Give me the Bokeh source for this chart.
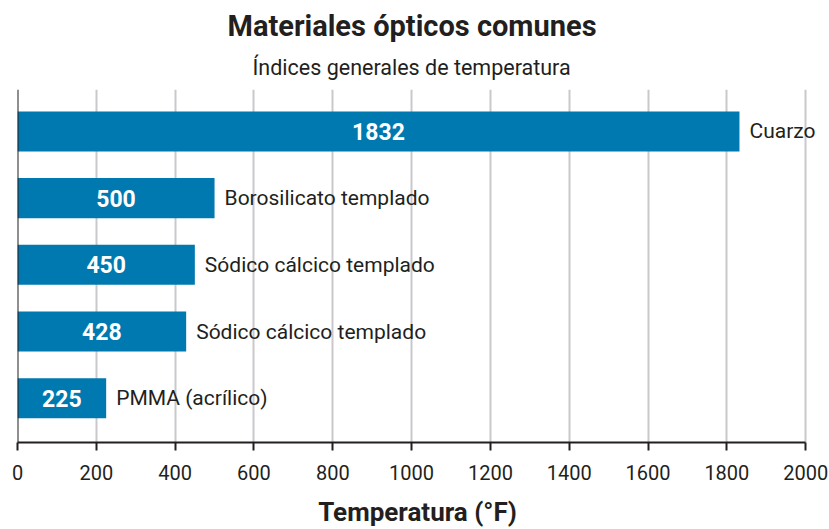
from bokeh.plotting import figure
from bokeh.models import ColumnDataSource, Span, Title, FixedTicker, Range1d
from bokeh.core.properties import value
from bokeh.embed import file_html
from bokeh.resources import INLINE

categories = ["Cuarzo", "Borosilicato templado", "Sódico cálcico templado",
              "Sódico cálcico templado", "PMMA (acrílico)"]
temps = [1832, 500, 450, 428, 225]
x_ticks = [0, 200, 400, 600, 800, 1000, 1200, 1400, 1600, 1800, 2000]
title_text = "Materiales ópticos comunes"
subtitle_text = "Índices generales de temperatura"
x_label = "Temperatura (°F)"

FONT = "Roboto"
TXT = "#231F20"
BAR = "#0079B0"

n = len(categories)
ypos = [n - 1 - i for i in range(n)]
src = ColumnDataSource(dict(
    y=ypos, v=temps, half=[t / 2 for t in temps],
    lab=[str(t) for t in temps], cat=categories,
))

p = figure(width=829, height=529, output_backend="svg", toolbar_location=None,
           x_range=Range1d(0, 2030), y_range=Range1d(-0.663, 4.628),
           min_border_left=17, min_border_right=12, min_border_top=89,
           min_border_bottom=83)
p.outline_line_color = None
p.background_fill_color = "white"

p.xgrid.ticker = FixedTicker(ticks=x_ticks)
p.xgrid.grid_line_color = "#C9C9CC"
p.xgrid.grid_line_width = 2
p.ygrid.grid_line_color = None

p.hbar(y="y", right="v", left=0, height=0.6, source=src, color=BAR, line_color=None)

p.text(x="half", y="y", text="lab", source=src, text_color="white",
       text_font=value(FONT), text_font_style="bold", text_font_size="23px",
       text_align="center", text_baseline="middle")
p.text(x="v", y="y", text="cat", source=src, text_color=TXT, x_offset=10,
       text_font=value(FONT), text_font_size="21px",
       text_align="left", text_baseline="middle")

p.add_layout(Span(location=0, dimension="height", line_color=TXT, line_width=2))

p.yaxis.visible = False
ax = p.xaxis[0]
ax.ticker = FixedTicker(ticks=x_ticks)
ax.bounds = (0, 2000)
ax.axis_line_color = TXT
ax.axis_line_width = 2
ax.major_tick_line_color = TXT
ax.major_tick_line_width = 2
ax.major_tick_in = 0
ax.major_tick_out = 8
ax.minor_tick_line_color = None
ax.major_label_text_font = FONT
ax.major_label_text_font_size = "20px"
ax.major_label_text_color = TXT
ax.major_label_standoff = 14
ax.axis_label = x_label
ax.axis_label_text_font = FONT
ax.axis_label_text_font_size = "26px"
ax.axis_label_text_font_style = "bold"
ax.axis_label_text_color = TXT
ax.axis_label_standoff = 14

p.add_layout(Title(text=subtitle_text, align="left",
                   text_font=FONT, text_font_size="21.5px", text_font_style="normal",
                   text_color=TXT, offset=235, standoff=20), "above")
p.add_layout(Title(text=title_text, align="left",
                   text_font=FONT, text_font_size="29px", text_font_style="bold",
                   text_color=TXT, offset=210, standoff=0), "above")

open("out.html", "w").write(file_html(p, INLINE))
